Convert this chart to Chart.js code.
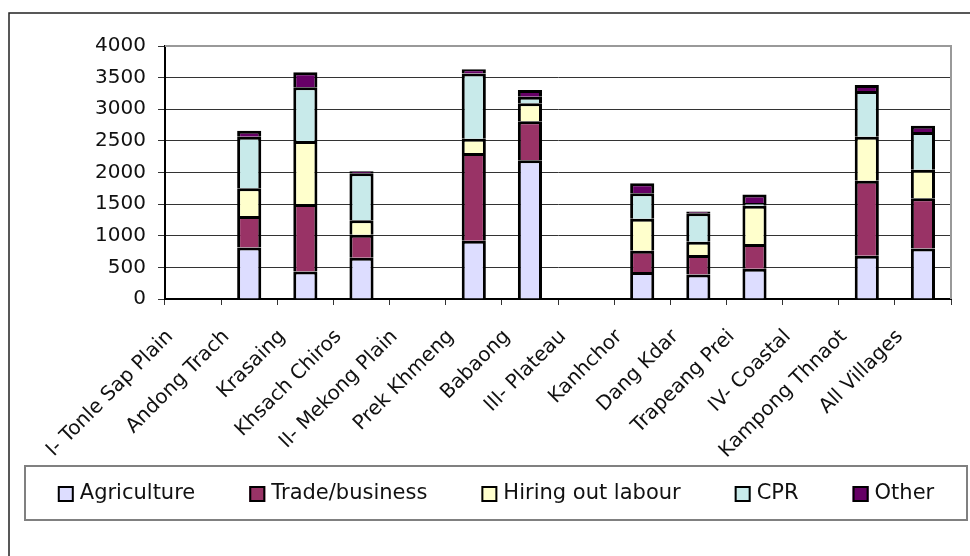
<!DOCTYPE html>
<html>
<head>
<meta charset="utf-8">
<script src="https://cdn.jsdelivr.net/npm/chart.js@4.4.1/dist/chart.umd.min.js"></script>
<style>
  html, body { margin: 0; padding: 0; background: #fff; }
  #wrap { width: 970px; height: 556px; }
</style>
</head>
<body>
<div id="wrap"><canvas id="grafica" width="970" height="556"></canvas></div>
<script>
const categorias = [
    'I- Tonle Sap Plain', 'Andong Trach', 'Krasaing', 'Khsach Chiros',
    'II- Mekong Plain', 'Prek Khmeng', 'Babaong', 'III- Plateau',
    'Kanhchor', 'Dang Kdar', 'Trapeang Prei', 'IV- Coastal',
    'Kampong Thnaot', 'All Villages'
];

const agricultura = [null, 814, 435, 651, null, 920, 2192, null, 426, 388, 478, null, 683, 798];
const comercio    = [null, 500, 1068, 363, null, 1388, 620, null, 336, 306, 390, null, 1188, 795];
const jornal      = [null, 437, 994, 232, null, 225, 284, null, 505, 210, 608, null, 694, 451];
const cpr         = [null, 814, 852, 741, null, 1032, 100, null, 405, 452, 40, null, 725, 595];
const otros       = [null, 94, 236, 32, null, 68, 110, null, 158, 26, 136, null, 95, 99];

const nombresSeries = ['Agriculture', 'Trade/business', 'Hiring out labour', 'CPR', 'Other'];
const coloresSeries = ['#DDDDFF', '#993366', '#FFFFCC', '#C8EAEA', '#660066'];

const fuente = 'DejaVu Sans';

// marco exterior, borde del area de trazado y leyenda con recuadro
const marcoPlugin = {
    id: 'marco',
    beforeDraw(chart) {
        const ctx = chart.ctx;
        ctx.save();
        ctx.fillStyle = '#fff';
        ctx.fillRect(0, 0, chart.width, chart.height);
        ctx.strokeStyle = '#222';
        ctx.lineWidth = 1.5;
        ctx.strokeRect(9, 13, chart.width + 20, chart.height + 20);
        ctx.restore();
    },
    beforeDatasetsDraw(chart) {
        const a = chart.chartArea;
        const ctx = chart.ctx;
        ctx.save();
        ctx.strokeStyle = '#999';
        ctx.lineWidth = 2;
        ctx.beginPath();
        ctx.moveTo(a.left, a.top);
        ctx.lineTo(a.right, a.top);
        ctx.lineTo(a.right, a.bottom);
        ctx.stroke();
        ctx.restore();
    },
    afterDraw(chart) {
        const ctx = chart.ctx;
        const caja = { left: 25, top: 466, right: 967, bottom: 520 };
        ctx.save();
        ctx.strokeStyle = '#808080';
        ctx.lineWidth = 2;
        ctx.strokeRect(caja.left, caja.top, caja.right - caja.left, caja.bottom - caja.top);

        ctx.font = '21px "' + fuente + '"';
        ctx.textBaseline = 'middle';
        ctx.fillStyle = '#111';
        const marca = 16, hueco = 6, sep = 54;
        const items = chart.data.datasets.map(d => ({
            texto: d.label,
            color: d.backgroundColor,
            ancho: marca + hueco + ctx.measureText(d.label).width
        }));
        const total = items.reduce((s, it) => s + it.ancho, 0) + sep * (items.length - 1);
        let x = (caja.left + caja.right) / 2 - total / 2;
        const yc = (caja.top + caja.bottom) / 2 + 1;
        items.forEach(it => {
            ctx.fillStyle = it.color;
            ctx.fillRect(x, yc - marca / 2, marca, marca);
            ctx.strokeStyle = '#000';
            ctx.lineWidth = 2;
            ctx.strokeRect(x + 1, yc - marca / 2 + 1, marca - 2, marca - 2);
            ctx.fillStyle = '#111';
            ctx.fillText(it.texto, x + marca + hueco, yc);
            x += it.ancho + sep;
        });
        ctx.restore();
    }
};

const series = [agricultura, comercio, jornal, cpr, otros];

new Chart(document.getElementById('grafica'), {
    type: 'bar',
    data: {
        labels: categorias,
        datasets: series.map((valores, i) => ({
            label: nombresSeries[i],
            data: valores,
            backgroundColor: coloresSeries[i],
            borderColor: '#000',
            borderWidth: 3,
            categoryPercentage: 1,
            barPercentage: 0.43
        }))
    },
    options: {
        responsive: false,
        animation: false,
        events: [],
        layout: { padding: { left: 0, top: 46, right: 19, bottom: 91 } },
        plugins: {
            legend: { display: false },
            tooltip: { enabled: false }
        },
        scales: {
            x: {
                stacked: true,
                afterFit: s => { s.height = 166; },
                border: { display: true, color: '#000', width: 2 },
                grid: { offset: true, drawOnChartArea: false, drawTicks: true, tickLength: 6, color: '#333' },
                ticks: {
                    autoSkip: false,
                    maxRotation: 45,
                    minRotation: 45,
                    labelOffset: -23,
                    padding: 20,
                    color: '#111',
                    font: { family: fuente, size: 20 }
                }
            },
            y: {
                stacked: true,
                min: 0,
                max: 4000,
                afterFit: s => { s.width = 165; },
                border: { display: true, color: '#000', width: 2 },
                grid: { color: '#333', lineWidth: 1, tickLength: 7 },
                ticks: {
                    stepSize: 500,
                    padding: 12,
                    color: '#111',
                    font: { family: fuente, size: 20 },
                    callback: v => String(v)
                }
            }
        }
    },
    plugins: [marcoPlugin]
});
</script>
</body>
</html>
